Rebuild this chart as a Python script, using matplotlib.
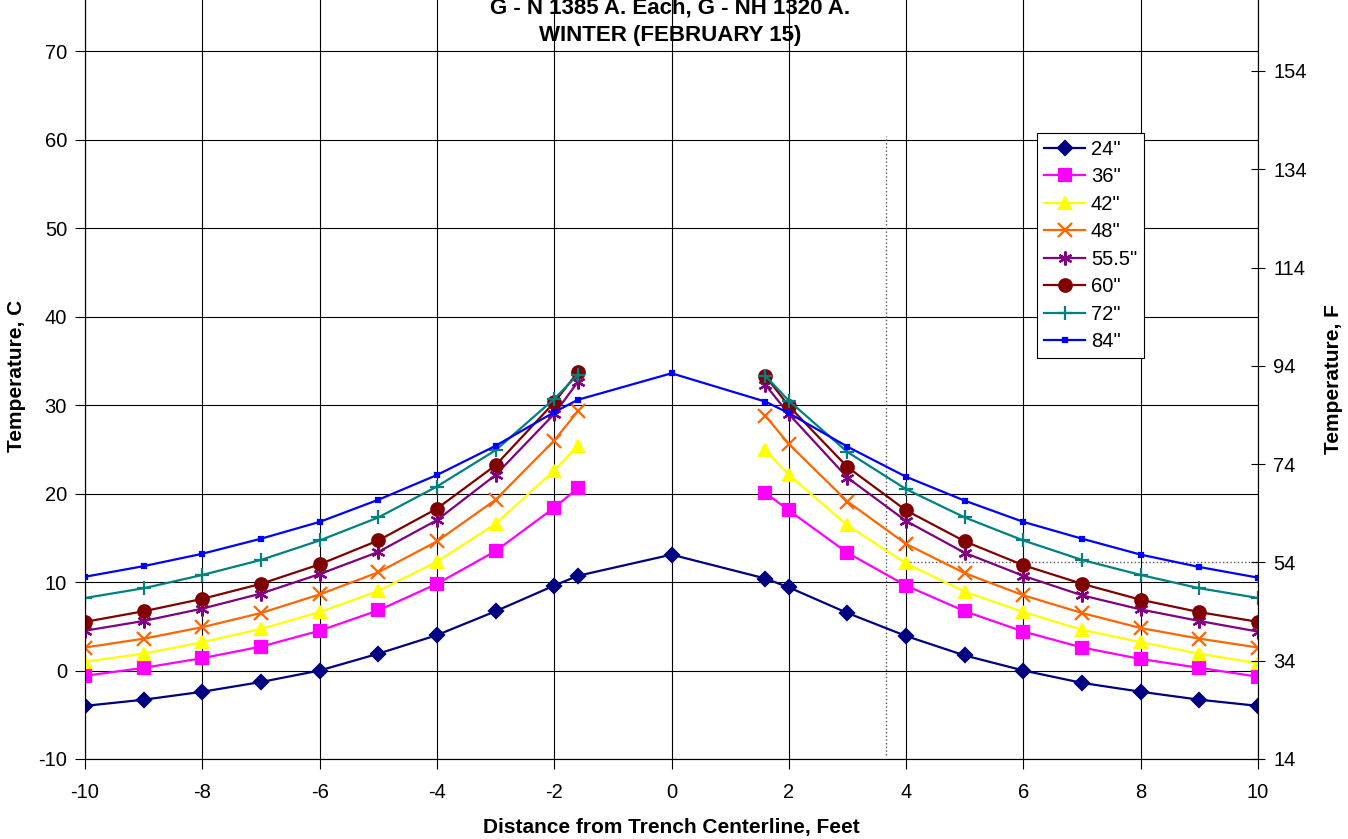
import numpy as np
import matplotlib.pyplot as plt

plt.rcParams['font.family'] = ['Liberation Sans', 'DejaVu Sans']
plt.rcParams['axes.unicode_minus'] = False

# distance from trench centerline, feet
x_ft = [-10, -9, -8, -7, -6, -5, -4, -3, -2, -1.6, 0, 1.6, 2, 3, 4, 5, 6, 7, 8, 9, 10]
nan = np.nan

# temperature, C (nan = no point at centerline)
t_24 = [-4.0, -3.3, -2.4, -1.3, 0.0, 1.9, 4.0, 6.7, 9.6, 10.7, 13.1,
        10.4, 9.4, 6.5, 3.9, 1.7, 0.0, -1.4, -2.4, -3.3, -4.0]
t_36 = [-0.6, 0.3, 1.4, 2.7, 4.5, 6.8, 9.8, 13.5, 18.4, 20.6, nan,
        20.1, 18.1, 13.3, 9.6, 6.7, 4.4, 2.6, 1.3, 0.3, -0.7]
t_42 = [1.0, 1.9, 3.2, 4.7, 6.6, 9.0, 12.3, 16.6, 22.6, 25.4, nan,
        24.9, 22.1, 16.4, 12.1, 8.9, 6.6, 4.6, 3.2, 1.9, 0.8]
t_48 = [2.6, 3.6, 4.9, 6.5, 8.6, 11.1, 14.6, 19.3, 26.0, 29.3, nan,
        28.8, 25.6, 19.1, 14.3, 11.0, 8.5, 6.5, 4.8, 3.6, 2.6]
t_555 = [4.5, 5.6, 7.0, 8.7, 10.9, 13.4, 17.0, 22.1, 29.0, 32.6, nan,
         32.3, 29.0, 21.8, 16.9, 13.3, 10.7, 8.5, 6.9, 5.6, 4.4]
t_60 = [5.5, 6.7, 8.1, 9.8, 12.0, 14.7, 18.3, 23.2, 30.3, 33.7, nan,
        33.3, 29.9, 23.0, 18.1, 14.6, 11.9, 9.8, 8.0, 6.6, 5.5]
t_72 = [8.2, 9.3, 10.8, 12.5, 14.7, 17.3, 20.8, 24.9, 30.7, 33.4, nan,
        33.3, 30.5, 24.7, 20.5, 17.3, 14.7, 12.5, 10.8, 9.3, 8.2]
t_84 = [10.6, 11.8, 13.2, 14.9, 16.8, 19.3, 22.1, 25.4, 29.2, 30.6, 33.6,
        30.4, 29.1, 25.3, 21.9, 19.2, 16.8, 14.9, 13.1, 11.7, 10.5]

labels = ['24"', '36"', '42"', '48"', '55.5"', '60"', '72"', '84"']
series = [t_24, t_36, t_42, t_48, t_555, t_60, t_72, t_84]
colors = ['#000080', '#FF00FF', '#FFFF00', '#FF6600', '#800080', '#800000', '#008080', '#0000FF']
markers = ['D', 's', '^', 'x', (6, 2, 0), 'o', '+', 's']
msizes = [7, 8, 9, 10, 10, 9, 10, 3.5]

c_ticks = list(range(-10, 71, 10))
f_ticks = list(range(14, 155, 20))
x_ticks = list(range(-10, 11, 2))

# dotted reference lines seen on the chart
vline_x, vline_y = 3.66, (-9.6, 60.4)
hline_f, hline_x = 54, (4, 10)

fig = plt.figure(figsize=(13.48, 8.39), dpi=100)
ax = fig.add_axes([0.0631, 0.0954, 0.8701, 0.9046])

for y, lab, c, m, ms in zip(series, labels, colors, markers, msizes):
    ax.plot(x_ft, y, color=c, lw=1.6, marker=m, ms=ms, mec=c, mfc=c,
            mew=1.6, label=lab, zorder=3)

ax.plot([vline_x, vline_x], vline_y, ls=':', color='0.35', lw=1, zorder=2)
hline_c = (hline_f - 32) / 1.8
ax.plot(hline_x, [hline_c, hline_c], ls=':', color='0.35', lw=1, zorder=2)

ax.set_xlim(-10, 10)
ax.set_ylim(-10, 75.8)
ax.set_xticks(x_ticks)
ax.set_yticks(c_ticks)
ax.grid(True, color='black', lw=0.8)
ax.spines['top'].set_visible(False)
for s in ['left', 'bottom', 'right']:
    ax.spines[s].set_color('0.4')
ax.tick_params(axis='both', labelsize=14.5, direction='out', length=7, width=0.8)
ax.tick_params(axis='x', pad=10)
ax.tick_params(axis='y', pad=6)

ax.set_xlabel('Distance from Trench Centerline, Feet', fontsize=15, fontweight='bold', labelpad=12)
ax.set_ylabel('Temperature, C', fontsize=15, fontweight='bold')
ax.yaxis.set_label_coords(-0.05, 0.505)

ax2 = ax.twinx()
lo, hi = ax.get_ylim()
ax2.set_ylim(lo * 1.8 + 32, hi * 1.8 + 32)
ax2.set_yticks(f_ticks)
ax2.spines['top'].set_visible(False)
ax2.tick_params(axis='y', labelsize=14.5, direction='inout', length=10, width=0.8, pad=6)
ax2.set_ylabel('Temperature, F', fontsize=15, fontweight='bold', labelpad=12)

leg = ax.legend(loc='upper left', bbox_to_anchor=(0.812, 0.825), fontsize=14.5,
                frameon=True, fancybox=False, edgecolor='black', framealpha=1,
                handlelength=2.0, handletextpad=0.3, labelspacing=0.42,
                borderpad=0.35, borderaxespad=0)
leg.get_frame().set_linewidth(0.8)

fig.text(0.497, 1 - 8 / 839, 'G - N 1385 A. Each, G - NH 1320 A.', ha='center', va='center',
         fontsize=16, fontweight='bold')
fig.text(0.497, 1 - 36 / 839, 'WINTER (FEBRUARY 15)', ha='center', va='center',
         fontsize=16, fontweight='bold')

fig.savefig('out.png', dpi=100)
